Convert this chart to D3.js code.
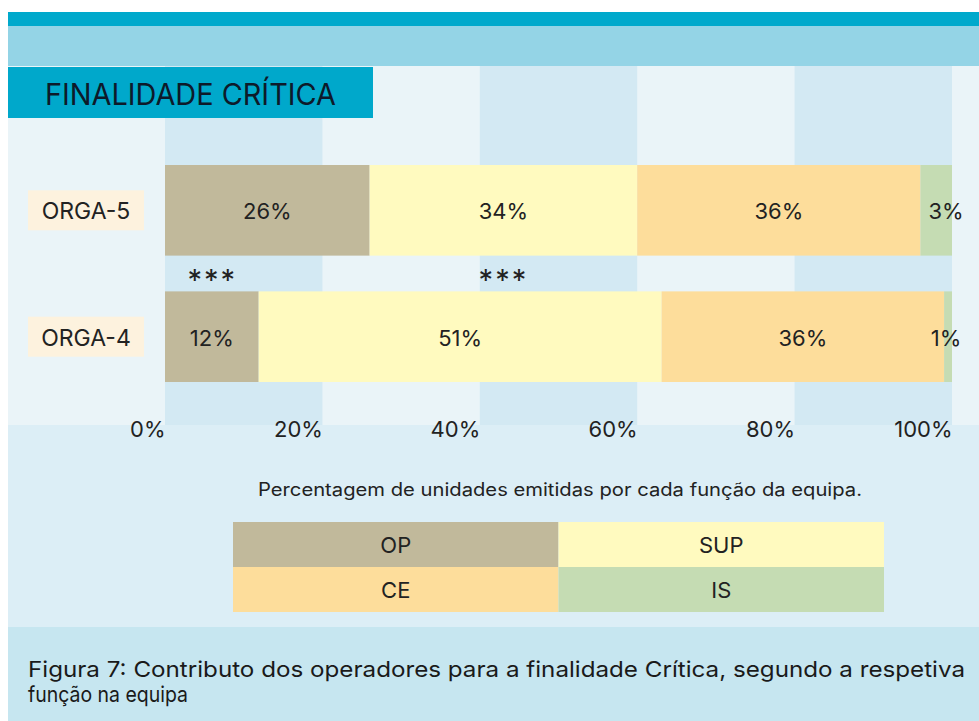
<!DOCTYPE html>
<html>
<head>
<meta charset="utf-8">
<script src="https://cdn.jsdelivr.net/npm/d3@7"></script>
<style>
	body { margin: 0; background: #fff; }
	svg { display: block; font-family: 'Inter', 'Lato', sans-serif; }
</style>
</head>
<body>
<div id="chart"></div>
<script>
let width = 979
let height = 721

// data
let orgs = ['ORGA-5', 'ORGA-4']
let roles = ['OP', 'SUP', 'CE', 'IS']
let orga5Shares = [26.0, 34.0, 36.0, 4.0]
let orga4Shares = [11.9, 51.2, 35.9, 1.0]
let orga5Labels = ['26%', '34%', '36%', '3%']
let orga4Labels = ['12%', '51%', '36%', '1%']
let tickValues = [0, 20, 40, 60, 80, 100]
let sigMarks = [6, 43]
let title = 'FINALIDADE CRÍTICA'
let subtitle = 'Percentagem de unidades emitidas por cada função da equipa.'
let caption = ['Figura 7: Contributo dos operadores para a finalidade Crítica, segundo a respetiva', 'função na equipa']

let roleColor = d3.scaleOrdinal()
	.domain(roles)
	.range(['#c1b99b', '#fffabf', '#fddd9b', '#c5dcb3'])

let rows = [
	{org: 'ORGA-5', shares: orga5Shares, labels: orga5Labels},
	{org: 'ORGA-4', shares: orga4Shares, labels: orga4Labels},
]
let table = rows.map((r) => {
	let o = {org: r.org}
	roles.forEach((k, i) => { o[k] = r.shares[i] })
	return o
})
let series = d3.stack().keys(roles)(table)

let xScale = d3.scaleLinear()
	.domain([0, 100])
	.range([165, 952])

let yScale = d3.scaleBand()
	.domain(orgs)
	.range([165, 382])
	.paddingInner(0.283)

let svg = d3.select('#chart').append('svg')
	.attr('width', width)
	.attr('height', height)

// background bands
svg.append('rect').attr('x', 8).attr('y', 12).attr('width', width - 8).attr('height', 14).attr('fill', '#00a9cc')
svg.append('rect').attr('x', 8).attr('y', 26).attr('width', width - 8).attr('height', 40).attr('fill', '#94d4e6')
svg.append('rect').attr('x', 8).attr('y', 66).attr('width', width - 8).attr('height', 359).attr('fill', '#eaf4f8')
svg.append('rect').attr('x', 8).attr('y', 425).attr('width', width - 8).attr('height', 202).attr('fill', '#dceef6')
svg.append('rect').attr('x', 8).attr('y', 627).attr('width', width - 8).attr('height', height - 627).attr('fill', '#c6e6f0')

// column stripes
svg.append('g').selectAll('rect')
	.data([[0, 20], [40, 60], [80, 100]])
	.enter().append('rect')
	.attr('x', (d) => xScale(d[0]))
	.attr('y', 66)
	.attr('width', (d) => xScale(d[1]) - xScale(d[0]))
	.attr('height', 359)
	.attr('fill', '#d3e9f3')

// title box
svg.append('rect').attr('x', 8).attr('y', 67).attr('width', 365).attr('height', 51).attr('fill', '#00a8cb')
svg.append('text')
	.attr('x', 45)
	.attr('y', 105)
	.attr('font-size', 30)
	.attr('fill', '#0d1a2a')
	.attr('textLength', 291)
	.attr('lengthAdjust', 'spacingAndGlyphs')
	.text(title)

// bars
let bars = svg.append('g')
bars.selectAll('g')
	.data(series)
	.enter().append('g')
	.attr('fill', (d) => roleColor(d.key))
	.selectAll('rect')
	.data((d) => d)
	.enter().append('rect')
	.attr('x', (d) => xScale(d[0]))
	.attr('y', (d) => yScale(d.data.org))
	.attr('width', (d) => xScale(d[1]) - xScale(d[0]))
	.attr('height', yScale.bandwidth())

// segment labels
let valueShell = svg.append('g')
	.attr('font-size', 22)
	.attr('fill', '#222')
	.attr('text-anchor', 'middle')
series.forEach((s, i) => {
	valueShell.selectAll('.v' + i)
		.data(s)
		.enter().append('text')
		.attr('class', 'v' + i)
		.attr('x', (d) => s.key === 'IS' ? xScale(d[1]) - 6 : xScale((d[0] + d[1]) / 2))
		.attr('y', (d) => yScale(d.data.org) + yScale.bandwidth() / 2 + 9)
		.text((d, j) => rows[j].labels[i])
})

// category labels
let catShell = svg.append('g')
catShell.selectAll('rect')
	.data(orgs)
	.enter().append('rect')
	.attr('x', 28)
	.attr('y', (d) => yScale(d) + yScale.bandwidth() / 2 - 20)
	.attr('width', 116)
	.attr('height', 40)
	.attr('fill', '#fdf2de')
catShell.selectAll('text')
	.data(orgs)
	.enter().append('text')
	.attr('x', 86)
	.attr('y', (d) => yScale(d) + yScale.bandwidth() / 2 + 9)
	.attr('text-anchor', 'middle')
	.attr('font-size', 23)
	.attr('fill', '#222')
	.text((d) => d)

// significance marks
svg.append('g').selectAll('text')
	.data(sigMarks)
	.enter().append('text')
	.attr('x', (d) => xScale(d))
	.attr('y', 290)
	.attr('text-anchor', 'middle')
	.attr('font-size', 29)
	.attr('letter-spacing', 2)
	.attr('fill', '#222')
	.text('***')

// x axis
let xAxis = d3.axisBottom(xScale)
	.tickValues(tickValues)
	.tickFormat((d) => d + '%')
	.tickSize(0)
let axisShell = svg.append('g')
	.attr('transform', 'translate(0,437)')
	.call(xAxis)
axisShell.select('.domain').remove()
axisShell.selectAll('text')
	.attr('y', 0)
	.attr('dy', null)
	.attr('text-anchor', 'end')
	.attr('font-size', 22)
	.attr('font-family', 'Inter, sans-serif')
	.attr('fill', '#222')

svg.append('text')
	.attr('x', 258)
	.attr('y', 496)
	.attr('font-size', 18)
	.attr('fill', '#222')
	.attr('textLength', 604)
	.attr('lengthAdjust', 'spacingAndGlyphs')
	.text(subtitle)

// legend
let legX = d3.scaleBand().domain([0, 1]).range([233, 884])
let legY = d3.scaleBand().domain([0, 1]).range([522, 612])
let legend = svg.append('g').selectAll('g')
	.data(roles)
	.enter().append('g')
	.attr('transform', (d, i) => 'translate(' + legX(i % 2) + ',' + legY(Math.floor(i / 2)) + ')')
legend.append('rect')
	.attr('width', legX.bandwidth())
	.attr('height', legY.bandwidth())
	.attr('fill', (d) => roleColor(d))
legend.append('text')
	.attr('x', legX.bandwidth() / 2)
	.attr('y', legY.bandwidth() / 2 + 8)
	.attr('text-anchor', 'middle')
	.attr('font-size', 22)
	.attr('fill', '#222')
	.text((d) => d)

// caption
svg.append('g').selectAll('text')
	.data(caption)
	.enter().append('text')
	.attr('x', 28)
	.attr('y', (d, i) => 677 + i * 25)
	.attr('font-size', 22)
	.attr('fill', '#1a1a1a')
	.attr('textLength', (d, i) => i === 0 ? 937 : 160)
	.attr('lengthAdjust', 'spacingAndGlyphs')
	.text((d) => d)
</script>
</body>
</html>
